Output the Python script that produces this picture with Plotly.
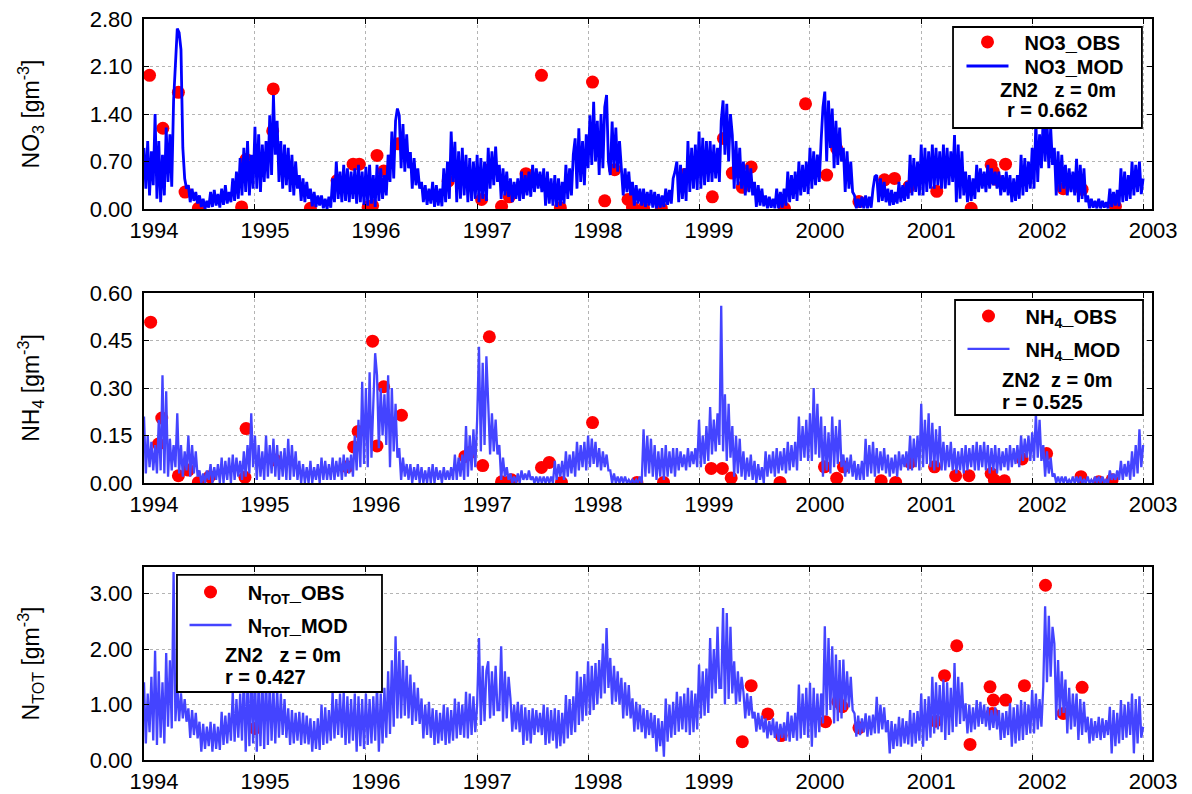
import numpy as np
import pandas as pd
import plotly.graph_objects as go

FONT = "Liberation Sans, Arial, sans-serif"

# ---------------------------------------------------------------- data
YEARS = list(range(1994, 2004))

# modelled surface NO3 [g m-3], one value every 1/60 year from 1994.0
# (each row holds one year, six values per tenth of a year)
no3_mod = [
    # 1994
    0.90, 0.30, 1.00, 0.20, 0.85, 0.35, 1.40, 0.15, 1.00, 0.10, 0.80, 0.20,
    1.20, 0.40, 1.10, 0.33, 1.60, 2.20, 2.66, 2.60, 2.35, 0.90, 0.45, 0.30,
    0.35, 0.10, 0.30, 0.12, 0.25, 0.08, 0.20, 0.03, 0.15, 0.00, 0.12, 0.02,
    0.25, 0.03, 0.28, 0.05, 0.22, 0.02, 0.30, 0.06, 0.35, 0.08, 0.25, 0.10,
    0.45, 0.12, 0.55, 0.15, 0.75, 0.20, 0.90, 0.25, 1.00, 0.20, 0.80, 0.30,
    # 1995
    1.21, 0.30, 1.10, 0.25, 0.95, 0.40, 1.00, 0.45, 1.38, 0.50, 1.68, 0.80,
    1.30, 0.40, 1.00, 0.30, 0.95, 0.35, 0.90, 0.25, 0.80, 0.20, 0.70, 0.30,
    0.50, 0.12, 0.45, 0.10, 0.40, 0.15, 0.30, 0.04, 0.25, 0.03, 0.20, 0.05,
    0.20, 0.01, 0.15, 0.00, 0.18, 0.02, 0.45, 0.10, 0.70, 0.15, 0.55, 0.10,
    0.65, 0.12, 0.60, 0.10, 0.55, 0.15, 0.60, 0.08, 0.65, 0.10, 0.55, 0.06,
    # 1996
    0.62, 0.05, 0.65, 0.08, 0.50, 0.03, 0.65, 0.12, 0.60, 0.15, 0.50, 0.20,
    0.80, 0.40, 1.14, 0.45, 1.30, 1.48, 1.38, 0.60, 1.25, 0.55, 1.10, 0.60,
    0.84, 0.30, 0.75, 0.35, 0.60, 0.30, 0.40, 0.10, 0.35, 0.06, 0.30, 0.08,
    0.40, 0.03, 0.35, 0.05, 0.30, 0.04, 0.60, 0.10, 0.70, 0.15, 1.14, 0.40,
    0.99, 0.10, 0.85, 0.15, 0.90, 0.20, 0.80, 0.10, 0.75, 0.12, 0.70, 0.15,
    # 1997
    0.80, 0.10, 0.75, 0.15, 0.70, 0.12, 0.90, 0.30, 0.85, 0.35, 0.92, 0.40,
    0.65, 0.15, 0.60, 0.20, 0.55, 0.18, 0.45, 0.10, 0.40, 0.15, 0.45, 0.12,
    0.55, 0.15, 0.50, 0.20, 0.55, 0.18, 0.65, 0.25, 0.60, 0.30, 0.55, 0.25,
    0.60, 0.05, 0.55, 0.08, 0.45, 0.05, 0.50, 0.03, 0.45, 0.05, 0.40, 0.08,
    0.65, 0.15, 0.60, 0.20, 0.80, 1.04, 0.30, 1.19, 0.40, 1.00, 0.35, 1.10,
    # 1998
    0.60, 1.38, 0.65, 1.58, 0.70, 1.30, 0.50, 1.40, 0.60, 1.50, 1.68, 0.70,
    0.50, 1.29, 0.60, 1.20, 0.55, 1.00, 0.65, 0.20, 0.60, 0.25, 0.55, 0.20,
    0.40, 0.05, 0.35, 0.08, 0.30, 0.05, 0.30, 0.03, 0.25, 0.05, 0.28, 0.02,
    0.25, 0.01, 0.22, 0.02, 0.20, 0.03, 0.30, 0.06, 0.28, 0.08, 0.45, 0.55,
    0.70, 0.10, 0.65, 0.15, 0.60, 0.12, 1.00, 0.25, 0.90, 0.30, 0.95, 0.28,
    # 1999
    1.14, 0.30, 1.05, 0.35, 1.00, 0.40, 1.00, 0.40, 0.95, 0.45, 0.90, 0.40,
    1.30, 1.60, 0.80, 1.55, 0.70, 1.40, 1.09, 0.30, 1.00, 0.35, 0.90, 0.30,
    0.70, 0.20, 0.65, 0.25, 0.60, 0.20, 0.40, 0.03, 0.35, 0.05, 0.30, 0.04,
    0.20, 0.01, 0.18, 0.02, 0.15, 0.01, 0.30, 0.01, 0.25, 0.02, 0.30, 0.05,
    0.55, 0.10, 0.50, 0.15, 0.55, 0.12, 0.70, 0.20, 0.65, 0.25, 0.70, 0.22,
    # 2000
    0.90, 0.30, 0.85, 0.35, 0.80, 0.40, 1.00, 1.50, 1.73, 0.70, 1.60, 0.90,
    1.48, 0.60, 1.30, 0.65, 1.20, 0.70, 0.90, 0.25, 0.85, 0.30, 0.70, 0.25,
    0.20, 0.01, 0.15, 0.02, 0.18, 0.01, 0.20, 0.01, 0.18, 0.02, 0.30, 0.48,
    0.50, 0.10, 0.45, 0.12, 0.40, 0.10, 0.30, 0.05, 0.28, 0.06, 0.25, 0.08,
    0.40, 0.10, 0.35, 0.12, 0.40, 0.15, 0.80, 0.20, 0.75, 0.25, 0.70, 0.20,
    # 2001
    0.95, 0.20, 0.90, 0.25, 0.85, 0.30, 0.95, 0.30, 0.90, 0.35, 0.85, 0.30,
    0.95, 0.30, 0.90, 0.35, 0.85, 0.40, 1.09, 0.10, 0.95, 0.15, 0.85, 0.20,
    0.55, 0.10, 0.50, 0.12, 0.45, 0.15, 0.65, 0.25, 0.60, 0.30, 0.55, 0.25,
    0.65, 0.30, 0.60, 0.35, 0.55, 0.30, 0.55, 0.20, 0.50, 0.25, 0.55, 0.20,
    0.50, 0.10, 0.45, 0.12, 0.50, 0.15, 0.80, 0.20, 0.75, 0.25, 0.70, 0.30,
    # 2002
    0.90, 0.30, 1.29, 0.40, 1.10, 0.60, 1.38, 0.70, 1.30, 0.60, 1.20, 0.65,
    0.90, 0.20, 0.85, 0.25, 0.80, 0.30, 0.65, 0.20, 0.60, 0.25, 0.55, 0.20,
    0.74, 0.10, 0.65, 0.15, 0.60, 0.10, 0.20, 0.01, 0.15, 0.02, 0.12, 0.01,
    0.15, 0.01, 0.12, 0.02, 0.10, 0.01, 0.30, 0.03, 0.25, 0.05, 0.28, 0.04,
    0.60, 0.10, 0.55, 0.12, 0.50, 0.15, 0.70, 0.20, 0.65, 0.25, 0.70, 0.22,
    # 2003
    0.45,
]

# modelled surface NH4 [g m-3]
nh4_mod = [
    # 1994
    0.21, 0.03, 0.15, 0.05, 0.13, 0.04, 0.12, 0.03, 0.20, 0.04, 0.34, 0.03,
    0.29, 0.02, 0.14, 0.04, 0.12, 0.05, 0.22, 0.03, 0.12, 0.02, 0.10, 0.04,
    0.15, 0.02, 0.12, 0.03, 0.10, 0.02, 0.04, 0.00, 0.03, 0.00, 0.04, 0.01,
    0.06, 0.00, 0.05, 0.01, 0.06, 0.00, 0.08, 0.00, 0.07, 0.01, 0.08, 0.00,
    0.09, 0.01, 0.08, 0.02, 0.07, 0.01, 0.10, 0.02, 0.12, 0.03, 0.22, 0.05,
    # 1995
    0.15, 0.01, 0.12, 0.02, 0.10, 0.01, 0.15, 0.02, 0.12, 0.03, 0.14, 0.02,
    0.12, 0.01, 0.10, 0.02, 0.11, 0.01, 0.14, 0.01, 0.12, 0.02, 0.10, 0.01,
    0.07, 0.00, 0.06, 0.00, 0.05, 0.00, 0.07, 0.00, 0.05, 0.01, 0.06, 0.00,
    0.08, 0.01, 0.07, 0.01, 0.06, 0.01, 0.08, 0.01, 0.07, 0.02, 0.08, 0.01,
    0.09, 0.02, 0.08, 0.03, 0.09, 0.02, 0.15, 0.04, 0.20, 0.05, 0.32, 0.06,
    # 1996
    0.30, 0.05, 0.35, 0.08, 0.25, 0.41, 0.34, 0.11, 0.30, 0.15, 0.28, 0.12,
    0.34, 0.05, 0.30, 0.10, 0.25, 0.08, 0.11, 0.01, 0.08, 0.02, 0.06, 0.01,
    0.06, 0.00, 0.05, 0.01, 0.06, 0.00, 0.05, 0.00, 0.04, 0.00, 0.05, 0.00,
    0.06, 0.00, 0.05, 0.01, 0.04, 0.00, 0.05, 0.01, 0.04, 0.01, 0.05, 0.01,
    0.09, 0.01, 0.08, 0.02, 0.09, 0.01, 0.18, 0.02, 0.15, 0.04, 0.17, 0.05,
    # 1997
    0.20, 0.43, 0.10, 0.38, 0.12, 0.40, 0.25, 0.09, 0.22, 0.10, 0.20, 0.09,
    0.12, 0.01, 0.08, 0.02, 0.05, 0.01, 0.03, 0.00, 0.02, 0.00, 0.03, 0.00,
    0.04, 0.01, 0.03, 0.01, 0.04, 0.01, 0.02, 0.00, 0.02, 0.00, 0.02, 0.00,
    0.02, 0.00, 0.02, 0.00, 0.02, 0.00, 0.07, 0.01, 0.06, 0.02, 0.07, 0.01,
    0.10, 0.02, 0.09, 0.03, 0.10, 0.02, 0.13, 0.04, 0.12, 0.05, 0.13, 0.04,
    # 1998
    0.15, 0.05, 0.14, 0.06, 0.13, 0.05, 0.11, 0.04, 0.10, 0.05, 0.09, 0.04,
    0.04, 0.00, 0.03, 0.00, 0.02, 0.00, 0.02, 0.00, 0.02, 0.00, 0.01, 0.00,
    0.01, 0.00, 0.01, 0.00, 0.02, 0.00, 0.17, 0.02, 0.15, 0.03, 0.14, 0.02,
    0.12, 0.01, 0.10, 0.02, 0.11, 0.01, 0.12, 0.02, 0.10, 0.03, 0.11, 0.02,
    0.11, 0.04, 0.10, 0.05, 0.09, 0.04, 0.11, 0.05, 0.10, 0.06, 0.11, 0.05,
    # 1999
    0.20, 0.05, 0.15, 0.06, 0.18, 0.07, 0.24, 0.09, 0.20, 0.10, 0.22, 0.12,
    0.56, 0.10, 0.28, 0.07, 0.25, 0.08, 0.18, 0.02, 0.15, 0.03, 0.14, 0.02,
    0.10, 0.01, 0.08, 0.02, 0.09, 0.01, 0.07, 0.00, 0.06, 0.01, 0.05, 0.00,
    0.10, 0.02, 0.09, 0.03, 0.10, 0.02, 0.11, 0.03, 0.10, 0.04, 0.11, 0.03,
    0.13, 0.04, 0.12, 0.05, 0.13, 0.04, 0.21, 0.07, 0.18, 0.08, 0.20, 0.07,
    # 2000
    0.22, 0.07, 0.30, 0.09, 0.25, 0.08, 0.21, 0.02, 0.18, 0.04, 0.16, 0.03,
    0.21, 0.05, 0.18, 0.06, 0.20, 0.05, 0.09, 0.02, 0.08, 0.03, 0.09, 0.02,
    0.07, 0.01, 0.06, 0.01, 0.07, 0.01, 0.14, 0.02, 0.12, 0.03, 0.13, 0.02,
    0.11, 0.03, 0.10, 0.04, 0.11, 0.03, 0.09, 0.02, 0.08, 0.03, 0.09, 0.02,
    0.10, 0.04, 0.09, 0.05, 0.10, 0.04, 0.15, 0.04, 0.14, 0.05, 0.15, 0.04,
    # 2001
    0.25, 0.05, 0.20, 0.06, 0.22, 0.05, 0.19, 0.04, 0.17, 0.05, 0.18, 0.04,
    0.13, 0.04, 0.12, 0.05, 0.13, 0.04, 0.11, 0.03, 0.10, 0.04, 0.11, 0.03,
    0.12, 0.04, 0.11, 0.05, 0.12, 0.04, 0.13, 0.04, 0.12, 0.05, 0.13, 0.04,
    0.12, 0.03, 0.11, 0.04, 0.12, 0.03, 0.11, 0.04, 0.10, 0.05, 0.11, 0.04,
    0.12, 0.05, 0.11, 0.06, 0.12, 0.05, 0.15, 0.07, 0.14, 0.08, 0.15, 0.07,
    # 2002
    0.16, 0.07, 0.22, 0.08, 0.20, 0.07, 0.12, 0.02, 0.10, 0.03, 0.08, 0.02,
    0.03, 0.00, 0.02, 0.00, 0.02, 0.00, 0.02, 0.00, 0.01, 0.00, 0.02, 0.00,
    0.02, 0.00, 0.02, 0.00, 0.01, 0.00, 0.02, 0.00, 0.01, 0.00, 0.02, 0.00,
    0.02, 0.00, 0.02, 0.00, 0.01, 0.00, 0.04, 0.01, 0.03, 0.01, 0.04, 0.01,
    0.07, 0.01, 0.06, 0.02, 0.07, 0.01, 0.10, 0.02, 0.12, 0.03, 0.17, 0.05,
    # 2003
    0.12,
]

# modelled surface total nitrogen [g m-3]
ntot_mod = [
    # 1994
    1.40, 0.30, 1.20, 0.50, 1.50, 0.35, 1.97, 0.27, 1.60, 0.40, 1.40, 0.30,
    1.93, 0.60, 1.80, 0.57, 3.39, 0.70, 1.36, 0.70, 1.20, 0.75, 1.10, 0.69,
    0.93, 0.40, 0.90, 0.45, 0.85, 0.39, 0.69, 0.15, 0.65, 0.20, 0.60, 0.25,
    0.69, 0.15, 0.65, 0.20, 0.60, 0.18, 0.87, 0.27, 0.80, 0.30, 0.85, 0.35,
    1.23, 0.33, 1.10, 0.40, 1.20, 0.35, 1.54, 0.15, 1.40, 0.25, 1.60, 0.30,
    # 1995
    1.60, 0.15, 1.40, 0.25, 1.50, 0.20, 1.50, 0.27, 1.40, 0.35, 1.30, 0.30,
    1.30, 0.40, 1.20, 0.45, 1.10, 0.40, 0.93, 0.27, 0.90, 0.30, 0.85, 0.35,
    0.87, 0.27, 0.85, 0.30, 0.80, 0.28, 0.75, 0.15, 0.70, 0.20, 0.75, 0.18,
    1.00, 0.27, 0.95, 0.30, 0.90, 0.35, 1.23, 0.39, 1.10, 0.45, 1.20, 0.40,
    1.23, 0.27, 1.15, 0.30, 1.10, 0.35, 1.20, 0.15, 1.15, 0.25, 1.10, 0.20,
    # 1996
    1.20, 0.27, 1.10, 0.30, 1.15, 0.35, 1.36, 0.15, 1.20, 0.30, 1.30, 0.40,
    1.60, 0.47, 1.80, 0.60, 2.23, 0.75, 1.96, 0.75, 1.80, 0.80, 1.70, 0.75,
    1.54, 0.63, 1.40, 0.70, 1.30, 0.65, 1.11, 0.39, 1.00, 0.45, 1.05, 0.40,
    0.93, 0.27, 0.90, 0.30, 0.85, 0.35, 1.00, 0.27, 0.95, 0.30, 0.90, 0.35,
    1.11, 0.39, 1.05, 0.45, 1.00, 0.40, 1.23, 0.39, 1.20, 0.45, 1.15, 0.50,
    # 1997
    1.00, 2.20, 0.63, 1.70, 0.70, 1.60, 1.78, 0.75, 1.60, 0.80, 1.70, 0.90,
    0.90, 2.05, 0.69, 1.60, 0.75, 1.50, 1.11, 0.51, 1.00, 0.55, 1.05, 0.50,
    1.00, 0.27, 0.95, 0.35, 0.90, 0.30, 0.93, 0.45, 0.90, 0.50, 0.85, 0.45,
    1.00, 0.27, 0.95, 0.30, 0.90, 0.35, 0.93, 0.21, 0.90, 0.25, 0.85, 0.30,
    1.17, 0.39, 1.10, 0.45, 1.15, 0.50, 1.60, 0.63, 1.50, 0.70, 1.55, 0.80,
    # 1998
    1.78, 0.81, 1.70, 0.90, 1.75, 1.00, 1.80, 1.11, 2.10, 1.20, 2.38, 1.30,
    1.84, 1.00, 1.70, 1.05, 1.60, 1.00, 1.48, 0.75, 1.40, 0.80, 1.35, 0.75,
    1.11, 0.51, 1.05, 0.55, 1.00, 0.50, 0.93, 0.39, 0.90, 0.45, 0.85, 0.40,
    0.81, 0.15, 0.75, 0.25, 0.70, 0.06, 1.11, 0.33, 1.00, 0.40, 1.05, 0.45,
    1.23, 0.51, 1.15, 0.55, 1.20, 0.50, 1.30, 0.45, 1.25, 0.50, 1.20, 0.55,
    # 1999
    1.72, 0.75, 1.60, 0.80, 1.65, 0.85, 2.20, 1.11, 2.00, 1.20, 2.40, 1.30,
    1.30, 2.74, 1.00, 2.65, 1.10, 2.40, 1.20, 1.78, 1.00, 1.60, 1.05, 1.50,
    1.23, 0.75, 1.20, 0.80, 1.15, 0.75, 0.87, 0.51, 0.85, 0.55, 0.80, 0.50,
    0.75, 0.39, 0.70, 0.45, 0.75, 0.40, 0.69, 0.33, 0.65, 0.40, 0.68, 0.35,
    0.87, 0.33, 0.80, 0.40, 0.85, 0.35, 1.36, 0.39, 1.20, 0.45, 1.30, 0.40,
    # 2000
    1.39, 0.24, 1.30, 0.40, 1.20, 0.50, 1.20, 0.66, 2.41, 0.80, 2.20, 0.90,
    2.05, 0.66, 1.90, 0.70, 1.80, 0.75, 1.81, 0.90, 1.60, 0.95, 1.50, 0.90,
    0.84, 0.42, 0.80, 0.45, 0.75, 0.50, 0.84, 0.42, 0.80, 0.45, 0.82, 0.48,
    1.14, 0.48, 1.00, 0.55, 0.95, 0.50, 0.72, 0.12, 0.70, 0.20, 0.65, 0.25,
    0.78, 0.24, 0.75, 0.30, 0.70, 0.28, 0.90, 0.24, 0.85, 0.30, 0.88, 0.35,
    # 2001
    1.20, 0.24, 1.10, 0.35, 1.15, 0.40, 1.50, 0.48, 1.40, 0.55, 1.35, 0.50,
    1.45, 0.36, 1.40, 0.45, 1.30, 0.50, 1.75, 0.60, 1.50, 0.65, 1.40, 0.70,
    1.02, 0.48, 1.00, 0.50, 0.95, 0.55, 1.08, 0.60, 1.05, 0.65, 1.00, 0.60,
    0.96, 0.54, 0.90, 0.58, 0.95, 0.55, 0.90, 0.36, 0.85, 0.40, 0.88, 0.45,
    1.02, 0.24, 0.95, 0.30, 1.00, 0.35, 1.08, 0.36, 1.05, 0.45, 1.00, 0.48,
    # 2002
    1.26, 0.48, 1.20, 0.55, 1.10, 0.60, 1.33, 2.77, 1.40, 2.60, 1.50, 2.40,
    2.10, 0.72, 1.80, 0.80, 1.60, 0.85, 1.45, 0.48, 1.30, 0.55, 1.20, 0.60,
    1.20, 0.36, 1.10, 0.45, 1.05, 0.50, 0.78, 0.30, 0.75, 0.35, 0.70, 0.40,
    0.78, 0.36, 0.75, 0.40, 0.72, 0.45, 0.96, 0.12, 0.90, 0.25, 0.85, 0.30,
    1.08, 0.36, 1.00, 0.40, 1.05, 0.45, 1.20, 0.12, 1.10, 0.30, 1.15, 0.40,
    # 2003
    0.60,
]

# observations: sampling time (decimal year) and concentration
no3_obs_t = [1994.05, 1994.17, 1994.31, 1994.37, 1994.49, 1994.88, 1994.92, 1995.16, 1995.165,
             1995.50, 1995.74, 1995.885, 1995.94, 1996.02, 1996.06, 1996.10, 1996.16, 1996.29,
             1996.74, 1997.04, 1997.12, 1997.22, 1997.29, 1997.44, 1997.58, 1997.66, 1997.75,
             1998.04, 1998.15, 1998.24, 1998.36, 1998.40, 1998.50, 1998.66, 1998.87, 1999.12,
             1999.22, 1999.30, 1999.39, 1999.47, 1999.77, 1999.96, 2000.15, 2000.24, 2000.44,
             2000.67, 2000.76, 2000.89, 2001.14, 2001.45, 2001.63, 2001.65, 2001.67, 2001.76,
             2002.28, 2002.45, 2002.75]
no3_obs = [1.97, 1.19, 1.72, 0.25, 0.01, 0.03, 0.73, 1.15, 1.77,
           0.01, 0.42, 0.66, 0.66, 0.03, 0.05, 0.79, 0.56, 0.96,
           0.41, 0.14, 0.59, 0.04, 0.18, 0.52, 1.97, 0.28, 0.02,
           1.87, 0.12, 0.58, 0.14, 0.03, 0.01, 0.01, 0.51, 0.18,
           1.04, 0.53, 0.32, 0.62, 0.01, 1.55, 0.50, 0.89, 0.11,
           0.43, 0.45, 0.33, 0.26, 0.01, 0.65, 0.55, 0.44, 0.66,
           0.30, 0.29, 0.04]

nh4_obs_t = [1994.06, 1994.13, 1994.16, 1994.31, 1994.40, 1994.49, 1994.59, 1994.91, 1994.92,
             1995.18, 1995.83, 1995.89, 1995.93, 1996.06, 1996.10, 1996.16, 1996.32, 1996.89,
             1996.94, 1997.05, 1997.11, 1997.22, 1997.31, 1997.58, 1997.65, 1997.76, 1998.04,
             1998.44, 1998.68, 1999.11, 1999.21, 1999.29, 1999.73, 2000.13, 2000.24, 2000.30,
             2000.64, 2000.77, 2000.90, 2001.12, 2001.31, 2001.43, 2001.63, 2001.66, 2001.75,
             2001.91, 2002.13, 2002.44, 2002.60, 2002.72]
nh4_obs = [0.508, 0.123, 0.205, 0.023, 0.041, 0.002, 0.020, 0.018, 0.172,
           0.073, 0.051, 0.114, 0.163, 0.448, 0.117, 0.304, 0.214, 0.084,
           0.097, 0.055, 0.462, 0.004, 0.010, 0.049, 0.065, 0.002, 0.191,
           0.002, 0.002, 0.046, 0.046, 0.016, 0.002, 0.051, 0.015, 0.051,
           0.007, 0.002, 0.065, 0.051, 0.023, 0.023, 0.030, 0.009, 0.007,
           0.076, 0.093, 0.020, 0.004, 0.010]

ntot_obs_t = [1995.00, 1999.39, 1999.47, 1999.62, 1999.74, 2000.14, 2000.25, 2000.29, 2000.44,
              2001.13, 2001.21, 2001.32, 2001.44, 2001.62, 2001.64, 2001.65, 2001.76, 2001.93,
              2002.12, 2002.28, 2002.45]
ntot_obs = [0.57, 0.33, 1.34, 0.83, 0.44, 0.69, 1.05, 0.96, 0.58,
            0.70, 1.52, 2.06, 0.28, 1.32, 0.84, 1.08, 1.08, 1.34,
            3.15, 0.84, 1.31]

# correlation between model and observations, per variable
r_no3, r_nh4, r_ntot = "0.662", "0.525", "0.427"

MOD_STEP_YEARS = 1.0 / 60.0


def to_date(decimal_year):
    """Decimal year -> ISO timestamp string."""
    y = int(np.floor(decimal_year))
    start = pd.Timestamp(year=y, month=1, day=1)
    end = pd.Timestamp(year=y + 1, month=1, day=1)
    return (start + (end - start) * (decimal_year - y)).isoformat()


def mod_dates(values):
    return [to_date(1994.0 + i * MOD_STEP_YEARS) for i in range(len(values))]


# ---------------------------------------------------------------- figure
fig = go.Figure()

RED = "#ff0000"
nb = "\u00a0"
panels = [
    # model, obs time, obs, line colour, width, legend names, axis suffix, legends
    (no3_mod, no3_obs_t, no3_obs, "#0000ff", 2.8,
     ("NO3_OBS", "NO3_MOD"), "", ("legend", "legend2")),
    (nh4_mod, nh4_obs_t, nh4_obs, "#4444ff", 2.3,
     ("NH<sub>4</sub>_OBS", "NH<sub>4</sub>_MOD"), "2", ("legend3", "legend4")),
    (ntot_mod, ntot_obs_t, ntot_obs, "#4444ff", 2.3,
     ("N<sub>TOT</sub>_OBS", "N<sub>TOT</sub>_MOD"), "3", ("legend5", "legend6")),
]

for mod, ot, ov, col, lw, names, sfx, legs in panels:
    # dots first so the model line is drawn over them
    fig.add_trace(go.Scatter(
        x=[to_date(t) for t in ot], y=ov, mode="markers", name=nb * 2 + names[0],
        marker=dict(color=RED, size=13, line=dict(width=0)),
        xaxis="x" + sfx, yaxis="y" + sfx, legend=legs[0], showlegend=True))
    fig.add_trace(go.Scatter(
        x=mod_dates(mod), y=mod, mode="lines", name=nb * 2 + names[1],
        line=dict(color=col, width=lw),
        xaxis="x" + sfx, yaxis="y" + sfx, legend=legs[1], showlegend=True))

# panel geometry (paper fractions)
domains = [(0.7436, 1.0), (0.3738, 0.6302), (0.0, 0.2605)]
yranges = [(0, 2.8, 0.7), (0, 0.6, 0.15), (0, 3.48, 1.0)]
ytitles = ["NO<sub>3</sub> [gm<sup>-3</sup>]",
           "NH<sub>4</sub> [gm<sup>-3</sup>]",
           "N<sub>TOT</sub> [gm<sup>-3</sup>]"]

axis_common = dict(
    showline=True, linewidth=2, linecolor="black", mirror="ticks",
    ticks="inside", ticklen=5, tickwidth=1, tickcolor="black",
    showgrid=True, gridcolor="#b4b4b4", gridwidth=1, griddash="dot",
    zeroline=False, automargin=False,
)

layout = dict(
    width=1192, height=794, autosize=False,
    margin=dict(l=144, r=40, t=19, b=34),
    paper_bgcolor="white", plot_bgcolor="white",
    font=dict(family=FONT, color="black"),
    showlegend=True,
)

for i, (dom, (y0, y1, dy), yt) in enumerate(zip(domains, yranges, ytitles)):
    sfx = "" if i == 0 else str(i + 1)
    layout["xaxis" + sfx] = dict(
        axis_common, type="date",
        range=[to_date(1994.0), to_date(2003.08)],
        tickvals=[to_date(y) for y in YEARS], ticktext=[str(y) for y in YEARS],
        tickfont=dict(size=22, family=FONT, color="black"),
        ticklabelshift=10, ticklabelstandoff=1,
        anchor="y" + sfx, domain=[0, 1],
    )
    layout["yaxis" + sfx] = dict(
        axis_common, range=[y0, y1], tick0=0, dtick=dy, tickformat=".2f",
        tickfont=dict(size=22, family=FONT, color="black"),
        ticklabelstandoff=5,
        title=dict(text=yt, font=dict(size=23, family=FONT, color="black"), standoff=44),
        anchor="x" + sfx, domain=list(dom),
    )

legend_font = dict(family=FONT, size=20, color="black", weight="bold")
legend_common = dict(xanchor="left", yanchor="middle", bgcolor="rgba(0,0,0,0)",
                     borderwidth=0, font=legend_font, itemwidth=42, visible=True)
legend_pos = {
    "legend": (0.811, 0.969), "legend2": (0.811, 0.9366),
    "legend3": (0.812, 0.5992), "legend4": (0.812, 0.5547),
    "legend5": (0.0402, 0.2267), "legend6": (0.0402, 0.1822),
}
for key, (lx, ly) in legend_pos.items():
    layout[key] = dict(legend_common, x=lx, y=ly)

# framed boxes behind the legends
boxes = [(0.8026, 0.8529, 0.9900, 0.9892),
         (0.8046, 0.4656, 0.9911, 0.6208),
         (0.0327, 0.0918, 0.2361, 0.2497)]
layout["shapes"] = [
    dict(type="rect", xref="paper", yref="paper", x0=a, y0=b, x1=c, y1=d,
         fillcolor="white", line=dict(color="black", width=1.8), layer="above")
    for a, b, c, d in boxes
]

info = [
    (0.847, 0.904, f"ZN2{nb*3}z = 0m"), (0.854, 0.877, f"r = {r_no3}"),
    (0.849, 0.5128, f"ZN2{nb*2}z = 0m"), (0.849, 0.4831, f"r = {r_nh4}"),
    (0.0784, 0.1417, f"ZN2{nb*3}z = 0m"), (0.0784, 0.112, f"r = {r_ntot}"),
]
layout["annotations"] = [
    dict(xref="paper", yref="paper", x=x, y=y, xanchor="left", yanchor="middle",
         text=t, showarrow=False,
         font=dict(family=FONT, size=20, color="black", weight="bold"))
    for x, y, t in info
]

fig.update_layout(**layout)
fig.write_html("out.html")
